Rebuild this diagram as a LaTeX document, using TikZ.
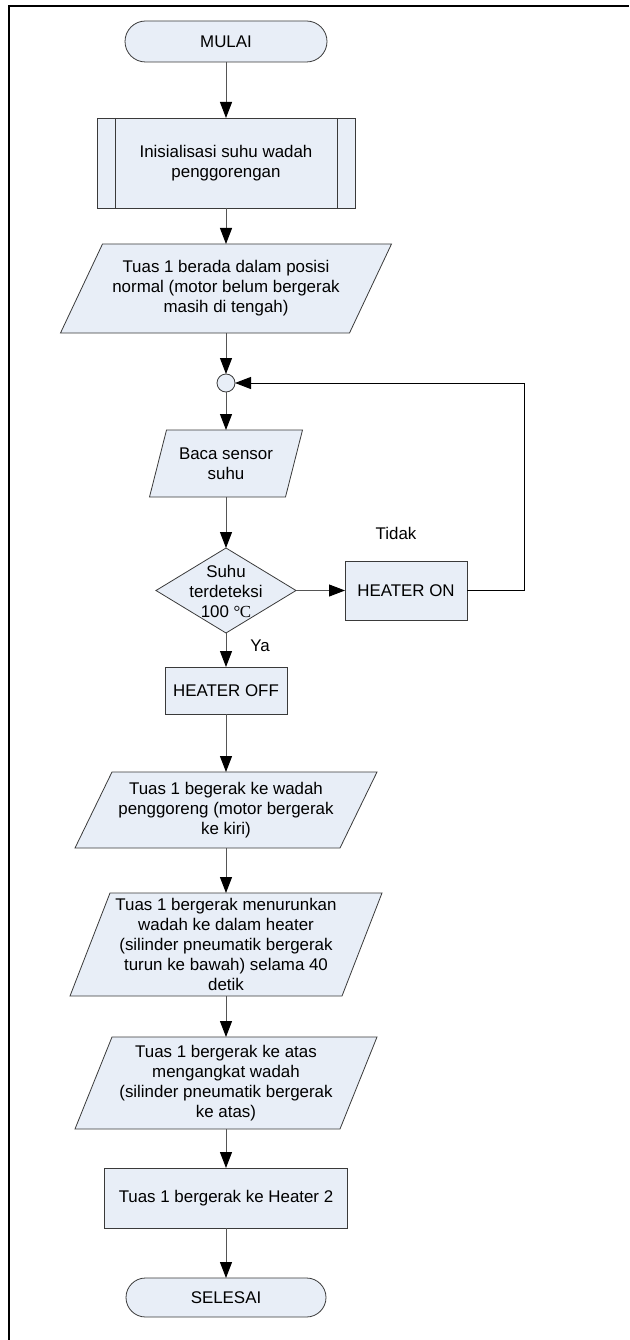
\documentclass[tikz,border=0pt]{standalone}
\usepackage{fontspec}
\setmainfont{Liberation Sans}
\newfontfamily\degfont{Liberation Serif}
\usetikzlibrary{arrows.meta,shapes.geometric,shapes.misc,backgrounds}

\definecolor{boxfill}{HTML}{E8EEF7}
\definecolor{boxline}{HTML}{3A3A3A}
\definecolor{flowline}{HTML}{555555}

\tikzset{
  txt/.style={font=\fontsize{16.9}{20}\selectfont, align=center, inner sep=0pt, outer sep=0pt},
  shapeline/.style={draw=boxline, fill=boxfill, line width=0.8pt},
  terminal/.style={txt, rounded rectangle, shapeline},
  process/.style={txt, rectangle, shapeline},
  subproc/.style={txt, rectangle, shapeline},
  iobody/.style={txt, rectangle},
  decision/.style={diamond, shapeline, inner sep=0pt, outer sep=0pt},
  junction/.style={circle, shapeline, inner sep=0pt, outer sep=0pt, minimum size=18pt},
  flow/.style={draw=flowline, line width=1pt, -{Triangle[length=16pt,width=12pt,color=black]}},
  loopflow/.style={draw=black, line width=1pt, -{Triangle[length=16pt,width=12pt,color=black]}},
  tag/.style={font=\fontsize{16.9}{20}\selectfont, inner sep=0pt}
}

% slanted outline (input/output) behind a text node; #2 = half of the horizontal slant
\newcommand\slantframe[2]{%
  \begin{scope}[on background layer]
    \draw[shapeline] ([xshift=-#2pt]#1.south west) -- ([xshift=-#2pt]#1.south east)
      -- ([xshift=#2pt]#1.north east) -- ([xshift=#2pt]#1.north west) -- cycle;
  \end{scope}}

\begin{document}
\begin{tikzpicture}[x=1pt,y=-1pt]
\useasboundingbox (0,0) rectangle (629,1340);

% page frame
\draw[line width=2pt] (8.7,1340) -- (8.7,6.5) -- (629,6.5);

% start
\node[terminal, minimum width=202pt, minimum height=41pt] (start) at (226,41.5) {MULAI};

% initialisation subroutine
\node[subproc, minimum width=258pt, minimum height=90pt] (init) at (226,163)
  {Inisialisasi suhu wadah\\penggorengan};
\draw[boxline, line width=0.8pt] ([xshift=18pt]init.north west) -- ([xshift=18pt]init.south west);
\draw[boxline, line width=0.8pt] ([xshift=-18pt]init.north east) -- ([xshift=-18pt]init.south east);

% lever in normal position
\node[iobody, minimum width=289pt, minimum height=89pt] (normal) at (226,288.5)
  {Tuas 1 berada dalam posisi\\normal (motor belum bergerak\\masih di tengah)};
\slantframe{normal}{21}

% junction of the loop
\node[junction] (join) at (226,383) {};

% read sensor
\node[iobody, minimum width=136pt, minimum height=67pt] (read) at (226,463.5)
  {Baca sensor\\suhu};
\slantframe{read}{8.5}

% temperature check
\node[decision, minimum width=140pt, minimum height=85pt] (check) at (226,590.5) {};
\node[txt] (checktext) at (226,591.5) {Suhu\\terdeteksi\\100 {\degfont °\kern-0.5ptC}};

% heater on
\node[process, minimum width=122pt, minimum height=59pt] (hon) at (406,590.5) {HEATER ON};
\coordinate (turn) at (524,383);

% heater off
\node[process, minimum width=122pt, minimum height=47pt] (hoff) at (226,690.5) {HEATER OFF};

% lever movements
\node[iobody, minimum width=265pt, minimum height=76pt] (left) at (226,810)
  {Tuas 1 begerak ke wadah\\penggoreng (motor bergerak\\ke kiri)};
\slantframe{left}{18.5}

\node[iobody, minimum width=272pt, minimum height=103pt] (down) at (226,944.5)
  {Tuas 1 bergerak menurunkan\\wadah ke dalam heater\\(silinder pneumatik bergerak\\turun ke bawah) selama 40\\detik};
\slantframe{down}{20}

\node[iobody, minimum width=265pt, minimum height=92pt] (up) at (226,1083)
  {Tuas 1 bergerak ke atas\\mengangkat wadah\\(silinder pneumatik bergerak\\ke atas)};
\slantframe{up}{18.5}

\node[process, minimum width=243pt, minimum height=60pt] (next) at (226,1198)
  {Tuas 1 bergerak ke Heater 2};

% end
\node[terminal, minimum width=200pt, minimum height=39pt] (stop) at (226,1297.5) {SELESAI};

% branch labels
\node[tag] (nolabel) at (396,533) {Tidak};
\node[tag] (yeslabel) at (260,646) {Ya};

% connectors
\draw[flow] (start.south) -- (init.north);
\draw[flow] (init.south) -- (normal.north);
\draw[flow] (normal.south) -- (join.north);
\draw[flow] (join.south) -- (read.north);
\draw[flow] (read.south) -- (check.north);
\draw[flow] (check.east) -- (hon.west);
\draw[loopflow] (hon.east) -| (turn) -- (join.east);
\draw[flow] (check.south) -- (hoff.north);
\draw[flow] (hoff.south) -- (left.north);
\draw[flow] (left.south) -- (down.north);
\draw[flow] (down.south) -- (up.north);
\draw[flow] (up.south) -- (next.north);
\draw[flow] (next.south) -- (stop.north);
\end{tikzpicture}
\end{document}
